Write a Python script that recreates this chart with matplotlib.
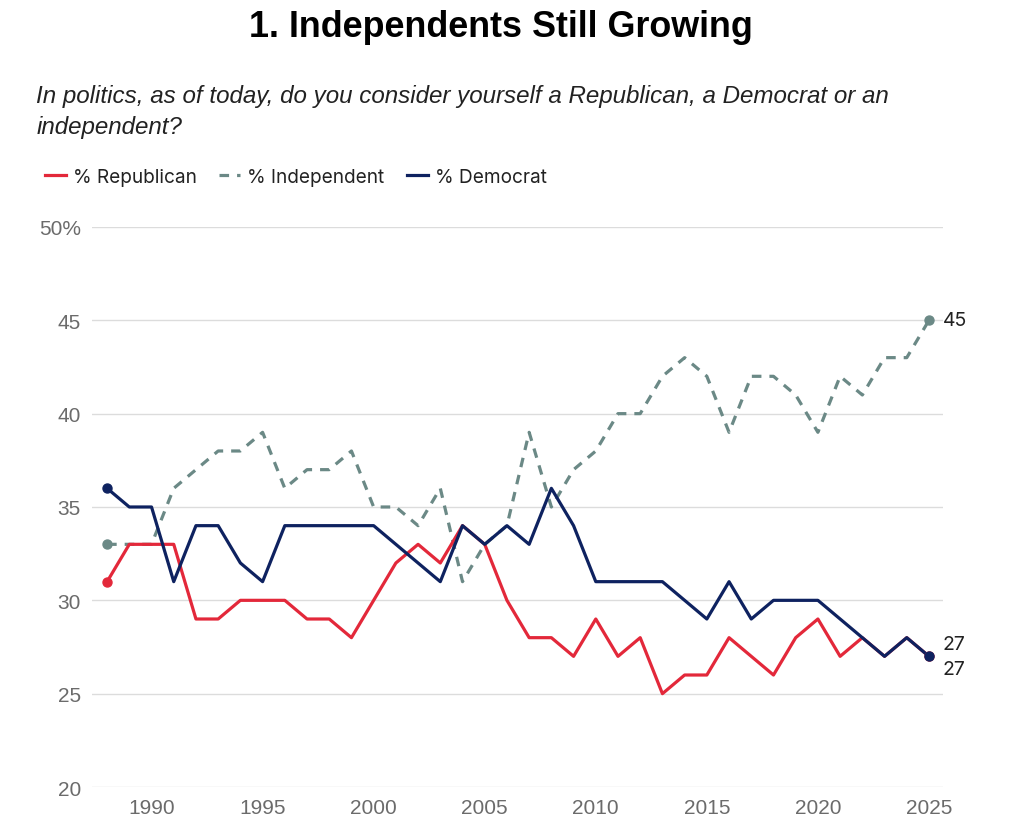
"""Gallup party identification: Republicans, Independents, Democrats, 1988-2025."""

import matplotlib

matplotlib.use("Agg")
import matplotlib.pyplot as plt  # noqa: E402

years = list(range(1988, 2026))
republican = [31, 33, 33, 33, 29, 29, 30, 30, 30, 29, 29, 28, 30, 32, 33, 32, 34, 33, 30,
              28, 28, 27, 29, 27, 28, 25, 26, 26, 28, 27, 26, 28, 29, 27, 28, 27, 28, 27]
independent = [33, 33, 33, 36, 37, 38, 38, 39, 36, 37, 37, 38, 35, 35, 34, 36, 31, 33, 34,
               39, 35, 37, 38, 40, 40, 42, 43, 42, 39, 42, 42, 41, 39, 42, 41, 43, 43, 45]
democrat = [36, 35, 35, 31, 34, 34, 32, 31, 34, 34, 34, 34, 34, 33, 32, 31, 34, 33, 34,
            33, 36, 34, 31, 31, 31, 31, 30, 29, 31, 29, 30, 30, 30, 29, 28, 27, 28, 27]

y_ticks = [20, 25, 30, 35, 40, 45, 50]
y_labels = ["20", "25", "30", "35", "40", "45", "50%"]
x_ticks = [1990, 1995, 2000, 2005, 2010, 2015, 2020, 2025]

RED = "#e3283a"
GREY = "#6b8986"
NAVY = "#0e2260"
TEXT = "#222222"
TICK = "#6b6b6b"
ARIAL = ["Liberation Sans", "DejaVu Sans"]

plt.rcParams["font.family"] = ["Inter", "DejaVu Sans"]

fig = plt.figure(figsize=(10.36, 8.2), dpi=100)
ax = fig.add_axes([0.0888, 0.039, 0.8214, 0.683])

ax.plot(years, republican, color=RED, lw=2.3, label="% Republican", zorder=3)
ax.plot(years, independent, color=GREY, lw=2.3, ls=(0, (3.0, 2.5)), label="% Independent",
        zorder=2)
ax.plot(years, democrat, color=NAVY, lw=2.3, label="% Democrat", zorder=4)

# start and end markers
for series, col, z in [(republican, RED, 3), (independent, GREY, 2), (democrat, NAVY, 4)]:
    ax.scatter([years[0], years[-1]], [series[0], series[-1]], s=42, color=col, zorder=z + 3,
               clip_on=False)

# end labels
ax.annotate(f"{independent[-1]}", (years[-1], independent[-1]), xytext=(10, 0),
            textcoords="offset points", va="center", ha="left", fontsize=14, color=TEXT)
ax.annotate(f"{republican[-1]}", (years[-1], republican[-1]), xytext=(10, 9),
            textcoords="offset points", va="center", ha="left", fontsize=14, color=TEXT)
ax.annotate(f"{democrat[-1]}", (years[-1], democrat[-1]), xytext=(10, -9),
            textcoords="offset points", va="center", ha="left", fontsize=14, color=TEXT)

ax.set_xlim(1987.32, 2025.63)
ax.set_ylim(20, 50)
ax.set_yticks(y_ticks)
ax.set_yticklabels(y_labels)
ax.set_xticks(x_ticks)
ax.tick_params(length=0, colors=TICK, pad=8)
ax.tick_params(axis="x", pad=8)
for lab in ax.get_xticklabels() + ax.get_yticklabels():
    lab.set_family(ARIAL)
    lab.set_fontsize(15)
ax.grid(axis="y", color="#dcdcdc", lw=1)
ax.set_axisbelow(True)
for s in ax.spines.values():
    s.set_visible(False)

fig.text(0.484, 0.967, "1. Independents Still Growing", ha="center", va="center",
         fontsize=25.8, fontweight="bold", color="black", family=ARIAL)
fig.text(0.035, 0.8634,
         "In politics, as of today, do you consider yourself a Republican, a Democrat or an\n"
         "independent?",
         ha="left", va="center", fontsize=17.4, style="italic", color=TEXT, linespacing=1.42,
         family=ARIAL)

fig.legend(loc="center left", bbox_to_anchor=(0.027, 0.783), ncol=3, frameon=False,
           fontsize=13.7, handlelength=1.1, handletextpad=0.35, columnspacing=1.2,
           labelcolor=TEXT)

fig.savefig("out.png", dpi=100)
plt.close(fig)
